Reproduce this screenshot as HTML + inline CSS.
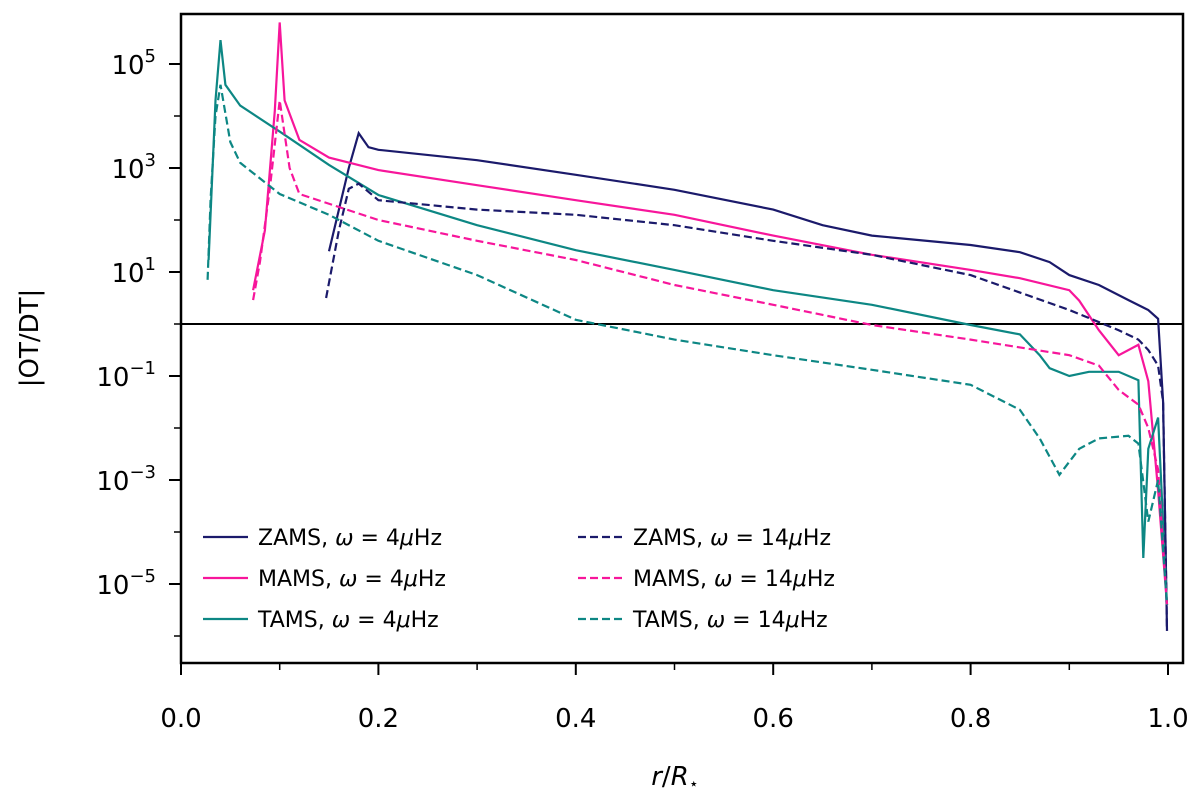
<!DOCTYPE html>
<html><head><meta charset="utf-8"><style>
body{margin:0;background:#fff;font-family:"DejaVu Sans","Liberation Sans",sans-serif}
</style></head><body>
<svg id="chart" width="1200" height="797" xmlns="http://www.w3.org/2000/svg"></svg>
<script>
const xTicks=[0.0,0.2,0.4,0.6,0.8,1.0];
const xTickLabels=["0.0","0.2","0.4","0.6","0.8","1.0"];
const yDecades=[5,3,1,-1,-3,-5];
const zamsX4=[0.15,0.16,0.17,0.18,0.19,0.2,0.3,0.4,0.5,0.6,0.65,0.7,0.8,0.85,0.88,0.9,0.93,0.96,0.98,0.99,0.995,0.999];
const zamsY4=[1.4,2.2,3.0,3.67,3.4,3.35,3.15,2.87,2.58,2.2,1.9,1.7,1.52,1.38,1.19,0.94,0.75,0.46,0.27,0.1,-1.5,-5.9];
const zamsX14=[0.147,0.16,0.17,0.18,0.2,0.3,0.4,0.5,0.6,0.7,0.8,0.9,0.95,0.97,0.98,0.99,0.995,0.999];
const zamsY14=[0.5,1.8,2.6,2.7,2.38,2.2,2.1,1.9,1.6,1.33,0.94,0.27,-0.12,-0.3,-0.5,-0.8,-1.5,-5.9];
const mamsX4=[0.073,0.085,0.095,0.1,0.105,0.12,0.15,0.2,0.3,0.4,0.5,0.6,0.7,0.8,0.85,0.9,0.91,0.93,0.95,0.97,0.98,0.99,0.999];
const mamsY4=[0.65,1.8,4.1,5.8,4.3,3.54,3.2,2.96,2.67,2.38,2.1,1.7,1.33,1.04,0.88,0.65,0.45,-0.12,-0.6,-0.4,-1.1,-3.2,-5.4];
const mamsX14=[0.073,0.08,0.09,0.1,0.11,0.12,0.2,0.3,0.4,0.5,0.6,0.7,0.8,0.9,0.93,0.95,0.97,0.98,0.99,0.999];
const mamsY14=[0.46,1.2,2.6,4.3,3.0,2.5,2.0,1.6,1.23,0.75,0.37,-0.02,-0.3,-0.6,-0.8,-1.27,-1.55,-2.0,-2.8,-5.4];
const tamsX4=[0.028,0.035,0.04,0.045,0.06,0.1,0.15,0.2,0.3,0.4,0.5,0.6,0.7,0.8,0.85,0.87,0.88,0.9,0.92,0.95,0.97,0.975,0.98,0.99,0.999];
const tamsY4=[1.23,4.3,5.46,4.6,4.2,3.7,3.06,2.48,1.9,1.42,1.04,0.65,0.37,-0.02,-0.2,-0.6,-0.85,-1.0,-0.92,-0.92,-1.08,-4.5,-2.4,-1.8,-5.4];
const tamsX14=[0.027,0.03,0.035,0.04,0.05,0.06,0.1,0.15,0.2,0.3,0.4,0.5,0.6,0.7,0.8,0.85,0.87,0.89,0.91,0.93,0.96,0.97,0.98,0.99,0.999];
const tamsY14=[0.85,2.4,4.0,4.6,3.5,3.1,2.5,2.1,1.6,0.94,0.08,-0.3,-0.6,-0.88,-1.17,-1.65,-2.2,-2.9,-2.4,-2.2,-2.15,-2.3,-3.8,-3.0,-5.4];
const NS="http://www.w3.org/2000/svg";
const svg=document.getElementById('chart');
const X=v=>181+v*987, Y=l=>324-l*52;
function mk(t,a,p){const e=document.createElementNS(NS,t);for(const k in a)e.setAttribute(k,a[k]);(p||svg).appendChild(e);return e;}
const frame=mk('rect',{x:181,y:14,width:1002,height:649,fill:'none',stroke:'#000','stroke-width':2.5});


xTicks.forEach((v,i)=>{
  mk('line',{x1:X(v),x2:X(v),y1:663,y2:675,stroke:'#000','stroke-width':2});
  const t=mk('text',{x:X(v),y:727,'font-size':26,'text-anchor':'middle'});t.textContent=xTickLabels[i];
  
  
});
for(let v=0.1;v<1;v+=0.2) mk('line',{x1:X(v),x2:X(v),y1:663,y2:670,stroke:'#000','stroke-width':1.5});
for(let d=-6;d<=5;d++) mk('line',{x1:181,x2:(d%2?169:174),y1:Y(d),y2:Y(d),stroke:'#000','stroke-width':d%2?2:1.5});
yDecades.forEach(d=>{
  const t=mk('text',{x:156,y:Y(d)+10,'font-size':26,'text-anchor':'end'});
  t.innerHTML='10<tspan dy="-12" font-size="18">'+(d<0?'\u2212'+(-d):d)+'</tspan>';
  
  
});
const hl=mk('line',{x1:181,x2:1183,y1:Y(0),y2:Y(0),stroke:'#000','stroke-width':2});


const series=[
 [zamsX4,zamsY4,'#1b1a6b',false,'zams-4uhz'],[mamsX4,mamsY4,'#f7169b',false,'mams-4uhz'],[tamsX4,tamsY4,'#0d8784',false,'tams-4uhz'],
 [zamsX14,zamsY14,'#1b1a6b',true,'zams-14uhz'],[mamsX14,mamsY14,'#f7169b',true,'mams-14uhz'],[tamsX14,tamsY14,'#0d8784',true,'tams-14uhz']];
series.forEach(s=>{
  const d=s[0].map((x,i)=>(i?'L':'M')+X(x).toFixed(1)+','+Y(s[1][i]).toFixed(1)).join('');
  const p=mk('path',{d:d,fill:'none',stroke:s[2],'stroke-width':2.2,'stroke-dasharray':s[3]?'8,4':'none'});
  
  
});
const leg=[['ZAMS','#1b1a6b',false,4],['MAMS','#f7169b',false,4],['TAMS','#0d8784',false,4],['ZAMS','#1b1a6b',true,14],['MAMS','#f7169b',true,14],['TAMS','#0d8784',true,14]];
leg.forEach((l,i)=>{
  const col=Math.floor(i/3),row=i%3,x0=col?578:203,y0=537+row*41;
  const g=mk('g',{});
  
  
  mk('line',{x1:x0,x2:x0+45,y1:y0,y2:y0,stroke:l[1],'stroke-width':2.2,'stroke-dasharray':l[2]?'8,4':'none'},g);
  const t=mk('text',{x:x0+55,y:y0+8,'font-size':22},g);
  t.innerHTML=l[0]+', <tspan font-style="italic">ω</tspan> = '+l[3]+'<tspan font-style="italic">μ</tspan>Hz';
});
const xl=mk('text',{x:675,y:785,'font-size':26,'text-anchor':'middle'});
xl.innerHTML='<tspan font-style="italic">r</tspan>/<tspan font-style="italic">R</tspan><tspan font-size="16" dy="4">⋆</tspan>';


const yl=mk('text',{x:0,y:0,'font-size':26,'text-anchor':'middle',transform:'translate(38,338) rotate(-90)'});
yl.textContent='|OT/DT|';


</script>
</body></html>
